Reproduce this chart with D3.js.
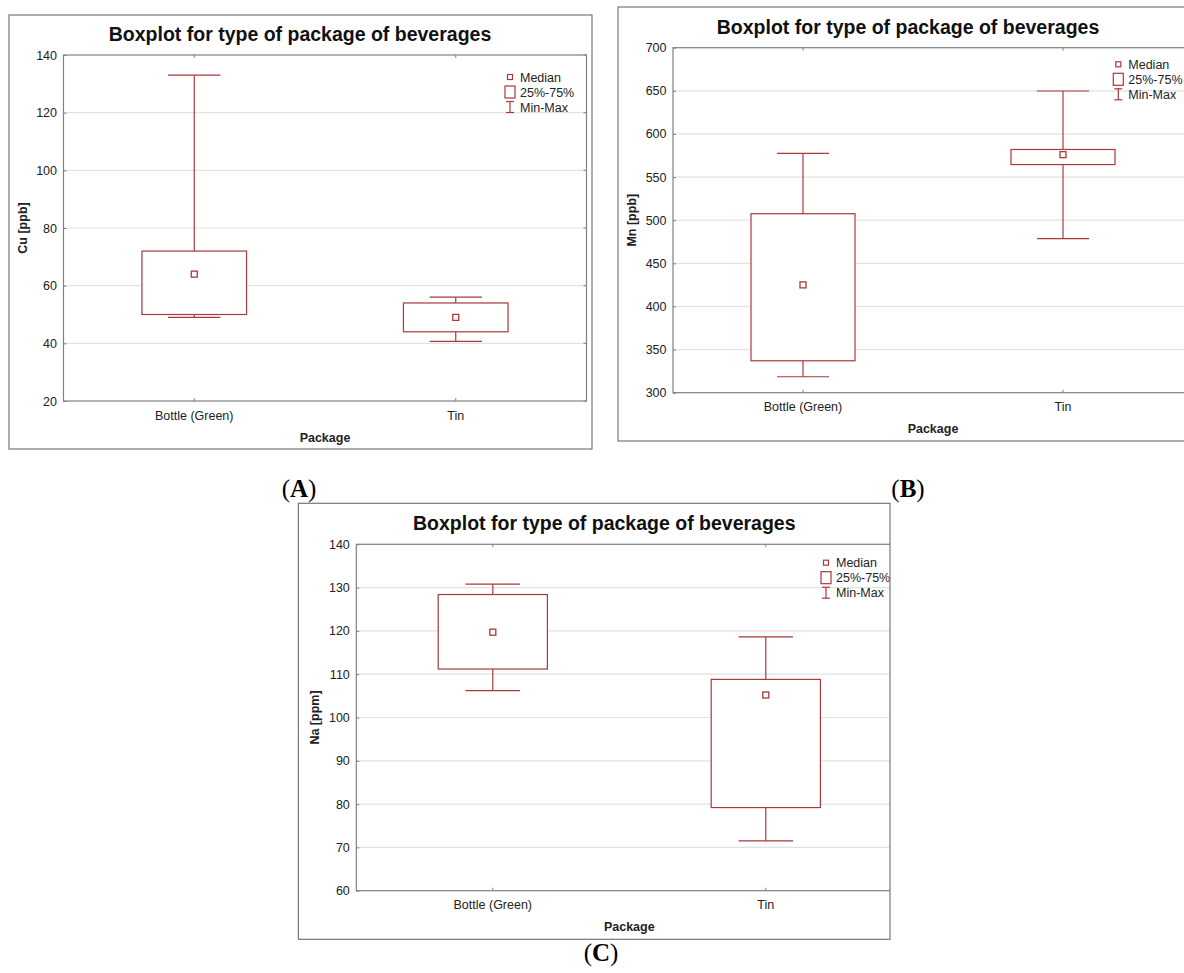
<!DOCTYPE html>
<html>
<head>
<meta charset="utf-8">
<script src="https://cdn.jsdelivr.net/npm/d3@7"></script>
<style>
  body { margin: 0; background: #fff; }
  text { font-family: "Liberation Sans", Arial, sans-serif; }
</style>
</head>
<body>
<svg id="main_graph" width="1184" height="973"></svg>
<script>
// categories on the x axis
var categories = ["Bottle (Green)", "Tin"];

// each list: min, q1, median, q3, max
var cuBottle = [49, 50, 64, 72, 133];
var cuTin    = [40.7, 44, 49, 54, 56];
var mnBottle = [318.5, 337, 425, 507.5, 577.5];
var mnTin    = [478.6, 564.5, 576, 582, 649.8];
var naBottle = [106.2, 111.2, 119.7, 128.4, 130.8];
var naTin    = [71.5, 79.2, 105.2, 108.8, 118.6];

// y tick values
var cuTicks = [20, 40, 60, 80, 100, 120, 140];
var mnTicks = [300, 350, 400, 450, 500, 550, 600, 650, 700];
var naTicks = [60, 70, 80, 90, 100, 110, 120, 130, 140];

var legendLabels = ["Median", "25%-75%", "Min-Max"];

var red  = "#a8393c";
var grid = "#e2e2e2";
var axc  = "#808080";

var svg = d3.select("svg");
svg.append("rect").attr("width", 1184).attr("height", 973).attr("fill", "#fff");

var panels = [
  { tag: "A", ylab: "Cu [ppb]", ticks: cuTicks, stats: [cuBottle, cuTin],
    frame: [9, 15, 583, 434], plot: [63.5, 55, 523, 346], legend: [510, 77], tagPos: [299, 497] },
  { tag: "B", ylab: "Mn [ppb]", ticks: mnTicks, stats: [mnBottle, mnTin],
    frame: [618, 7, 620, 434], plot: [673, 47.7, 520, 345], legend: [1118.3, 64.3], tagPos: [908, 497] },
  { tag: "C", ylab: "Na [ppm]", ticks: naTicks, stats: [naBottle, naTin],
    frame: [298.4, 503.3, 591.6, 436], plot: [356.3, 544.3, 546, 346.4], legend: [826, 562.7], tagPos: [601, 961] }
];

panels.forEach(function(p, pi) {
  var fx = p.frame[0], fy = p.frame[1], fw = p.frame[2], fh = p.frame[3];
  var px = p.plot[0], py = p.plot[1], pw = p.plot[2], ph = p.plot[3];

  svg.append("clipPath").attr("id", "clip" + pi)
    .append("rect").attr("x", fx).attr("y", fy).attr("width", fw).attr("height", fh);

  var g = svg.append("g").attr("clip-path", "url(#clip" + pi + ")");

  var x = d3.scalePoint().domain(categories).range([px, px + pw]).padding(0.5);
  var y = d3.scaleLinear().domain(d3.extent(p.ticks)).range([py + ph, py]);

  var boxW = pw * 0.2, capW = pw * 0.1;

  // grid
  g.selectAll(".grid").data(p.ticks.slice(1, -1)).enter().append("line")
    .attr("x1", px).attr("x2", px + pw)
    .attr("y1", function(d) { return y(d); }).attr("y2", function(d) { return y(d); })
    .attr("stroke", grid).attr("stroke-width", 1.2);

  var rows = categories.map(function(c, i) { return { cat: c, s: p.stats[i] }; });

  // whiskers
  g.selectAll(".wh").data(rows).enter().append("line")
    .attr("x1", function(d) { return x(d.cat); }).attr("x2", function(d) { return x(d.cat); })
    .attr("y1", function(d) { return y(d.s[0]); }).attr("y2", function(d) { return y(d.s[4]); })
    .attr("stroke", red).attr("stroke-width", 1.2);
  [0, 4].forEach(function(k) {
    g.selectAll(".cap" + k).data(rows).enter().append("line")
      .attr("x1", function(d) { return x(d.cat) - capW / 2; })
      .attr("x2", function(d) { return x(d.cat) + capW / 2; })
      .attr("y1", function(d) { return y(d.s[k]); }).attr("y2", function(d) { return y(d.s[k]); })
      .attr("stroke", red).attr("stroke-width", 1.2);
  });

  // boxes
  g.selectAll(".box").data(rows).enter().append("rect")
    .attr("x", function(d) { return x(d.cat) - boxW / 2; })
    .attr("width", boxW)
    .attr("y", function(d) { return y(d.s[3]); })
    .attr("height", function(d) { return y(d.s[1]) - y(d.s[3]); })
    .attr("fill", "#fff").attr("stroke", red).attr("stroke-width", 1.2);

  // medians
  g.selectAll(".med").data(rows).enter().append("rect")
    .attr("x", function(d) { return x(d.cat) - 3; })
    .attr("y", function(d) { return y(d.s[2]) - 3; })
    .attr("width", 6).attr("height", 6)
    .attr("fill", "#fff").attr("stroke", red).attr("stroke-width", 1.3);

  // plot border
  g.append("rect").attr("x", px).attr("y", py).attr("width", pw).attr("height", ph)
    .attr("fill", "none").attr("stroke", axc).attr("stroke-width", 1.2);

  // inward ticks: right side and top/bottom
  g.selectAll(".rt").data(p.ticks).enter().append("line")
    .attr("x1", px + pw).attr("x2", px + pw - 3)
    .attr("y1", function(d) { return y(d); }).attr("y2", function(d) { return y(d); })
    .attr("stroke", axc);
  [py, py + ph].forEach(function(yy, k) {
    g.selectAll(".ct" + k).data(categories).enter().append("line")
      .attr("x1", function(d) { return x(d); }).attr("x2", function(d) { return x(d); })
      .attr("y1", yy).attr("y2", k === 0 ? yy + 3 : yy - 3)
      .attr("stroke", axc);
  });

  // y axis labels
  var yAxis = d3.axisLeft(y).tickValues(p.ticks).tickSize(-3).tickPadding(6.5);
  var ya = g.append("g").attr("transform", "translate(" + px + ",0)").call(yAxis);
  ya.select(".domain").remove();
  ya.selectAll("line").attr("stroke", axc);
  ya.selectAll("text").attr("font-size", "12.5px").attr("fill", "#222")
    .attr("font-family", "Liberation Sans, Arial, sans-serif");

  // x axis labels
  g.selectAll(".xl").data(categories).enter().append("text")
    .attr("x", function(d) { return x(d); }).attr("y", py + ph + 18.5)
    .attr("text-anchor", "middle").attr("font-size", "12.5px").attr("fill", "#222")
    .text(function(d) { return d; });

  // titles
  g.append("text").attr("x", px + pw / 2 - 25).attr("y", py - 14)
    .attr("text-anchor", "middle").attr("font-size", "19.5px").attr("font-weight", "bold")
    .attr("fill", "#111").text("Boxplot for type of package of beverages");

  g.append("text").attr("x", px + pw / 2).attr("y", py + ph + 40.5)
    .attr("text-anchor", "middle").attr("font-size", "12.5px").attr("font-weight", "bold")
    .attr("fill", "#222").text("Package");

  g.append("text")
    .attr("transform", "translate(" + (px - 37) + "," + (py + ph / 2) + ") rotate(-90)")
    .attr("text-anchor", "middle").attr("font-size", "12.5px").attr("font-weight", "bold")
    .attr("fill", "#222").text(p.ylab);

  // legend
  var lx = p.legend[0], ly = p.legend[1];
  var lg = svg.append("g");
  lg.append("rect").attr("x", lx - 2.5).attr("y", ly - 2.5).attr("width", 5).attr("height", 5)
    .attr("fill", "none").attr("stroke", red).attr("stroke-width", 1.2);
  lg.append("rect").attr("x", lx - 5).attr("y", ly + 15 - 6).attr("width", 10).attr("height", 12)
    .attr("fill", "#fff").attr("stroke", red).attr("stroke-width", 1.2);
  lg.append("line").attr("x1", lx).attr("x2", lx).attr("y1", ly + 24.5).attr("y2", ly + 35.5)
    .attr("stroke", red).attr("stroke-width", 1.2);
  [ly + 24.5, ly + 35.5].forEach(function(yy) {
    lg.append("line").attr("x1", lx - 4).attr("x2", lx + 4).attr("y1", yy).attr("y2", yy)
      .attr("stroke", red).attr("stroke-width", 1.2);
  });
  lg.selectAll("text").data(legendLabels).enter().append("text")
    .attr("x", lx + 10).attr("y", function(d, i) { return ly + i * 15 + 4.5; })
    .attr("font-size", "12.5px").attr("fill", "#222").text(function(d) { return d; });

  // frame
  svg.append("rect").attr("x", fx).attr("y", fy).attr("width", fw).attr("height", fh)
    .attr("fill", "none").attr("stroke", "#777").attr("stroke-width", 1.2);

  // panel tag
  var t = svg.append("text").attr("x", p.tagPos[0]).attr("y", p.tagPos[1])
    .attr("text-anchor", "middle").attr("font-size", "25px")
    .style("font-family", "'Liberation Serif', 'Times New Roman', serif").attr("fill", "#000");
  t.append("tspan").text("(");
  t.append("tspan").attr("font-weight", "bold").text(p.tag);
  t.append("tspan").text(")");
});
</script>
</body>
</html>
